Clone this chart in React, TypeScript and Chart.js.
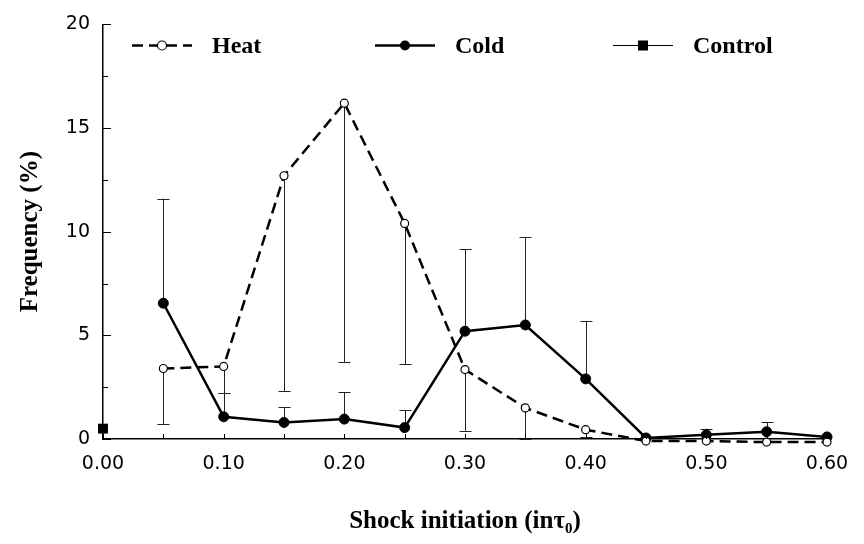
import React, { useEffect, useRef } from "react";
import { Chart, registerables } from "chart.js";

Chart.register(...registerables);

// ---- data ----
const shockTimes = [0.05, 0.1, 0.15, 0.2, 0.25, 0.3, 0.35, 0.4, 0.45, 0.5, 0.55, 0.6];
const heatValues = [3.4, 3.5, 12.7, 16.2, 10.4, 3.35, 1.5, 0.45, -0.1, -0.1, -0.15, -0.15];
const coldValues = [6.55, 1.07, 0.8, 0.96, 0.55, 5.2, 5.5, 2.9, 0.05, 0.2, 0.35, 0.1];
// lower end of the Heat error bars, upper end of the Cold error bars (null = none)
const heatLowerEnd = [0.7, 2.2, 2.3, 3.7, 3.6, 0.4, 0.0, 0.1, null, null, null, null];
const coldUpperEnd = [11.6, 2.2, 1.55, 2.25, 1.4, 9.15, 9.75, 5.7, null, 0.5, 0.8, null];
const controlTimes = [0.0];
const controlValues = [0.5];

const seriesLabels = ["Heat", "Cold", "Control"];
const xMajorTicks = [0, 0.1, 0.2, 0.3, 0.4, 0.5, 0.6];
const xMinorTicks = [0.05, 0.15, 0.25, 0.35, 0.45, 0.55];
const yMajorTicks = [0, 5, 10, 15, 20];
const yMinorTicks = [2.5, 7.5, 12.5, 17.5];
const xTitle = "Shock initiation (inτ₀)";
const yTitle = "Frequency (%)";

const SANS = "'DejaVu Sans', Arial, Helvetica, sans-serif";
const SERIF = "'Liberation Serif', 'Times New Roman', serif";

const errorBarPlugin = {
  id: "errorBars",
  beforeDatasetsDraw(chart: any) {
    const { ctx, scales } = chart;
    const xs = scales.x;
    const ys = scales.y;
    ctx.save();
    ctx.strokeStyle = "#222";
    ctx.lineWidth = 1;
    const cap = 6;
    const drawBar = (xv: number, from: number, to: number | null) => {
      if (to === null || to === undefined) return;
      const px = Math.round(xs.getPixelForValue(xv)) + 0.5;
      const p1 = ys.getPixelForValue(from);
      const p2 = ys.getPixelForValue(to);
      ctx.beginPath();
      ctx.moveTo(px, p1);
      ctx.lineTo(px, p2);
      ctx.stroke();
      ctx.beginPath();
      ctx.moveTo(px - cap, Math.round(p2) + 0.5);
      ctx.lineTo(px + cap, Math.round(p2) + 0.5);
      ctx.stroke();
    };
    shockTimes.forEach((t, i) => {
      drawBar(t, heatValues[i], heatLowerEnd[i]);
      drawBar(t, coldValues[i], coldUpperEnd[i]);
    });
    ctx.restore();
  },
};

const innerTicksPlugin = {
  id: "innerTicks",
  afterDraw(chart: any) {
    const { ctx, scales } = chart;
    const xs = scales.x;
    const ys = scales.y;
    const area = chart.chartArea;
    ctx.save();
    ctx.strokeStyle = "#000";
    ctx.lineWidth = 1;
    const yTick = (v: number, len: number) => {
      const py = Math.round(ys.getPixelForValue(v)) + 0.5;
      ctx.beginPath();
      ctx.moveTo(area.left, py);
      ctx.lineTo(area.left + len, py);
      ctx.stroke();
    };
    const xTick = (v: number, len: number) => {
      const px = Math.round(xs.getPixelForValue(v)) + 0.5;
      ctx.beginPath();
      ctx.moveTo(px, area.bottom);
      ctx.lineTo(px, area.bottom - len);
      ctx.stroke();
    };
    yMajorTicks.forEach((v) => yTick(v, 8));
    yMinorTicks.forEach((v) => yTick(v, 5));
    xMajorTicks.forEach((v) => xTick(v, 5));
    xMinorTicks.forEach((v) => xTick(v, 5));
    ctx.restore();
  },
};

const legendPlugin = {
  id: "customLegend",
  afterDraw(chart: any) {
    const { ctx } = chart;
    const y = 45.5;
    const sampleW = 60;
    const items = [
      { x: 132, label: seriesLabels[0], dash: [11, 6], lw: 2.5, marker: "open" },
      { x: 375, label: seriesLabels[1], dash: [], lw: 2.5, marker: "filled" },
      { x: 613, label: seriesLabels[2], dash: [], lw: 1, marker: "square" },
    ];
    ctx.save();
    items.forEach((it) => {
      ctx.strokeStyle = "#000";
      ctx.lineWidth = it.lw;
      ctx.setLineDash(it.dash);
      ctx.beginPath();
      ctx.moveTo(it.x, y);
      ctx.lineTo(it.x + sampleW, y);
      ctx.stroke();
      ctx.setLineDash([]);
      const cx = it.x + sampleW / 2;
      if (it.marker === "open") {
        ctx.fillStyle = "#fff";
        ctx.lineWidth = 1.2;
        ctx.beginPath();
        ctx.arc(cx, y, 4.5, 0, Math.PI * 2);
        ctx.fill();
        ctx.stroke();
      } else if (it.marker === "filled") {
        ctx.fillStyle = "#000";
        ctx.beginPath();
        ctx.arc(cx, y, 5, 0, Math.PI * 2);
        ctx.fill();
      } else {
        ctx.fillStyle = "#000";
        ctx.fillRect(cx - 5, y - 5, 10, 10);
      }
      ctx.fillStyle = "#000";
      ctx.font = `bold 24px ${SERIF}`;
      ctx.textBaseline = "middle";
      ctx.textAlign = "left";
      ctx.fillText(it.label, it.x + sampleW + 20, y + 1);
    });
    ctx.restore();
  },
};

export default function App() {
  const canvasRef = useRef<HTMLCanvasElement | null>(null);

  useEffect(() => {
    const canvas = canvasRef.current;
    if (!canvas) return;
    const chart = new Chart(canvas, {
      type: "line",
      data: {
        datasets: [
          {
            label: seriesLabels[0],
            data: shockTimes.map((t, i) => ({ x: t, y: heatValues[i] })),
            borderColor: "#000",
            borderWidth: 2.5,
            borderDash: [11, 6],
            pointStyle: "circle",
            pointRadius: 4,
            pointBackgroundColor: "#fff",
            pointBorderColor: "#000",
            pointBorderWidth: 1.2,
            tension: 0,
            clip: false,
          },
          {
            label: seriesLabels[1],
            data: shockTimes.map((t, i) => ({ x: t, y: coldValues[i] })),
            borderColor: "#000",
            borderWidth: 2.5,
            pointStyle: "circle",
            pointRadius: 5,
            pointBackgroundColor: "#000",
            pointBorderColor: "#000",
            pointBorderWidth: 1,
            tension: 0,
            clip: false,
          },
          {
            label: seriesLabels[2],
            data: controlTimes.map((t, i) => ({ x: t, y: controlValues[i] })),
            borderColor: "#000",
            borderWidth: 1,
            pointStyle: "rect",
            pointRadius: 7,
            pointBackgroundColor: "#000",
            pointBorderColor: "#000",
            pointBorderWidth: 0,
            showLine: false,
            clip: false,
          },
        ],
      },
      options: {
        responsive: false,
        animation: false,
        devicePixelRatio: 1,
        layout: { padding: { left: 0, top: 22, right: 37, bottom: 0 } },
        plugins: {
          legend: { display: false },
          tooltip: { enabled: false },
        },
        scales: {
          x: {
            type: "linear",
            min: 0,
            max: 0.6,
            afterBuildTicks: (s: any) => {
              s.ticks = xMajorTicks.map((v) => ({ value: v }));
            },
            afterFit: (s: any) => {
              s.height = 105;
            },
            grid: { display: true, drawOnChartArea: false, drawTicks: false },
            border: { display: true, color: "#000", width: 1.5 },
            ticks: {
              color: "#000",
              padding: 14,
              maxRotation: 0,
              autoSkip: false,
              font: { family: SANS, size: 19 },
              callback: (v: any) => Number(v).toFixed(2),
            },
            title: {
              display: true,
              text: xTitle,
              color: "#000",
              font: { family: SERIF, size: 25, weight: "bold" },
              padding: { top: 0, bottom: 7 },
            },
          },
          y: {
            type: "linear",
            min: 0,
            max: 20,
            afterBuildTicks: (s: any) => {
              s.ticks = yMajorTicks.map((v) => ({ value: v }));
            },
            afterFit: (s: any) => {
              s.width = 103;
            },
            grid: { display: true, drawOnChartArea: false, drawTicks: false },
            border: { display: true, color: "#000", width: 1.5 },
            ticks: {
              color: "#000",
              padding: 13,
              font: { family: SANS, size: 19 },
              callback: (v: any) => String(v),
            },
            title: {
              display: true,
              text: yTitle,
              color: "#000",
              font: { family: SERIF, size: 25, weight: "bold" },
              padding: { top: 16, bottom: 0 },
            },
          },
        },
      },
      plugins: [errorBarPlugin, innerTicksPlugin, legendPlugin],
    } as any);
    return () => chart.destroy();
  }, []);

  return (
    <div style={{ position: "absolute", left: 0, top: 0, width: 864, height: 544, background: "#fff" }}>
      <canvas ref={canvasRef} width={864} height={544} style={{ display: "block" }} />
    </div>
  );
}
